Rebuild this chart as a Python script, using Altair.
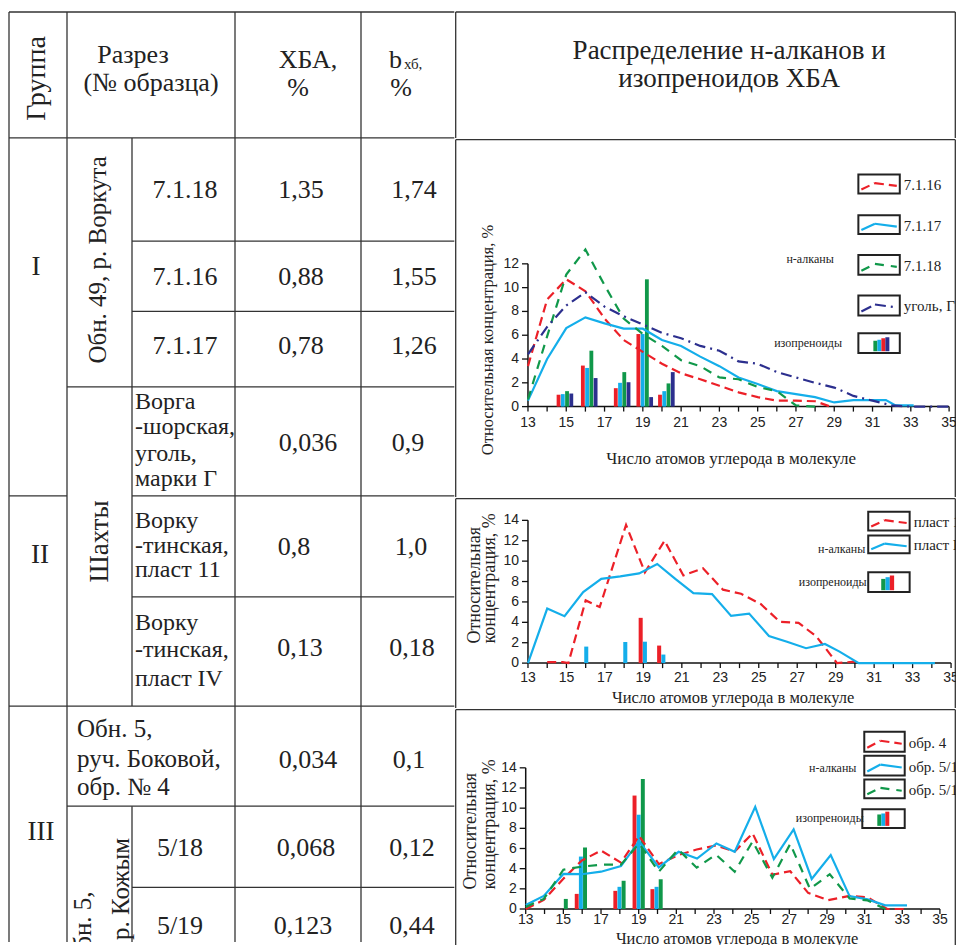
import altair as alt
import pandas as pd

# ------------------------------------------------------------------ data
HEAD_GROUP = "Группа"
HEAD_SECTION = ["Разрез", "(№ образца)"]
HEAD_XBA = ["ХБА,", "%"]
HEAD_B = ["b", "хб,", "%"]
HEAD_DIST = ["Распределение н-алканов и", "изопреноидов ХБА"]
GROUP_LABELS = ["I", "II", "III"]
SECTION_LABELS = ["Обн. 49, р. Воркута", "Шахты"]
SECTION_III_A = ["Обн. 5,", "руч. Боковой,", "обр. № 4"]
SECTION_III_B = ["Обн. 5,", "р. Кожым"]
SAMPLE_SIMPLE = ["7.1.18", "7.1.16", "7.1.17", "5/18", "5/19"]
SAMPLE_BLOCKS = [["Ворга", "-шорская,", "уголь,", "марки  Г"],
                 ["Ворку", "-тинская,", "пласт 11"],
                 ["Ворку", "-тинская,", "пласт IV"]]
XBA = ["1,35", "0,88", "0,78", "0,036", "0,8", "0,13", "0,034", "0,068", "0,123"]
BXB = ["1,74", "1,55", "1,26", "0,9", "1,0", "0,18", "0,1", "0,12", "0,44"]

X_TITLE = "Число атомов углерода в молекуле"
Y_TITLE = ["Относительная", "концентрация, %"]
LEG_ALK = "н-алканы"
LEG_ISO = "изопреноиды"
CARBON_TICKS = list(range(13, 36))

# chart I (Воркута, уголь Г)
I_NAMES = ["7.1.16", "7.1.17", "7.1.18", "уголь, Г"]
I_16_X = list(range(13, 29)) + [28.8]
I_16_Y = [3.4, 9.0, 10.7, 9.7, 7.4, 5.6, 4.6, 3.6, 2.8, 2.3, 1.75, 1.2, 0.8, 0.5, 0.5, 0.45, 0.0]
I_17_X = list(range(13, 32)) + [31.7, 32.2, 33.15]
I_17_Y = [0.5, 4.0, 6.6, 7.5, 7.0, 6.55, 6.55, 5.6, 5.1, 4.2, 3.4, 2.45, 1.9, 1.3, 1.05, 0.8,
          0.35, 0.55, 0.55, 0.55, 0.1, 0.1]
I_18_X = list(range(13, 29))
I_18_Y = [0.6, 5.9, 11.1, 13.2, 10.2, 7.4, 6.1, 5.1, 3.9, 3.4, 2.45, 2.3, 1.65, 1.3, 0.1, 0.0]
I_G_X = list(range(13, 36))
I_G_Y = [4.4, 6.7, 8.5, 9.6, 8.4, 7.6, 6.9, 6.2, 5.75, 5.1, 4.7, 3.8, 3.6, 2.9, 2.45, 2.0,
         1.6, 0.9, 0.5, 0.1, 0.0, 0.0, 0.0]
I_BAR_POS = [14.93, 16.2, 17.92, 19.1, 20.23]
I_BAR_RED = [1.0, 3.45, 1.55, 6.1, 1.0]
I_BAR_CYAN = [1.05, 3.25, 2.0, 6.1, 1.3]
I_BAR_GREEN = [1.3, 4.7, 2.9, 10.7, 1.95]
I_BAR_NAVY = [1.1, 2.4, 2.05, 0.8, 2.9]

# chart II (шахты)
II_NAMES = ["пласт 11", "пласт IV"]
II_11_X = [14, 14.8, 15.1, 16.0, 16.73, 18.1, 19.08, 20.1, 21.08, 22.1, 23.14, 24.08, 25.1,
           26.1, 27.07, 28.0, 29.07, 30.0]
II_11_Y = [0.1, 0.1, 0.0, 6.15, 5.5, 13.55, 8.9, 12.0, 8.6, 9.3, 7.2, 6.8, 5.8, 4.05, 3.95,
           2.6, 0.0, 0.15]
II_IV_X = [13.0, 14.0, 14.9, 15.87, 16.81, 17.8, 18.78, 19.72, 20.66, 21.6, 22.57, 23.56,
           24.5, 25.53, 26.47, 27.46, 28.44, 29.2, 30.2, 34.16]
II_IV_Y = [0.0, 5.35, 4.6, 6.97, 8.26, 8.5, 8.8, 9.72, 8.26, 6.87, 6.77, 4.63, 4.86, 2.66,
           2.1, 1.46, 1.88, 1.13, 0.0, 0.0]
II_BAR_POS = [16.03, 18.06, 19.08, 20.04]
II_BAR_RED = [0.0, 0.0, 4.44, 1.72]
II_BAR_CYAN = [1.62, 2.07, 2.1, 0.84]

# chart III (Боковой, Кожым)
III_NAMES = ["обр. 4", "обр. 5/18", "обр. 5/19"]
III_4_X = [13.0, 13.96, 15.0, 15.97, 17.0, 18.06, 19.02, 20.07, 21.1, 22.08, 23.1, 24.1,
           25.05, 26.1, 27.05, 28.0, 29.06, 30.2, 31.16, 32.2, 33.1]
III_4_Y = [0.0, 0.9, 3.0, 4.8, 5.8, 4.6, 7.25, 4.45, 5.35, 5.9, 6.3, 5.7, 7.5, 3.4, 3.75,
           1.6, 0.87, 1.3, 1.15, 0.0, 0.0]
III_18_X = [13.0, 13.96, 15.0, 15.97, 17.0, 18.06, 19.02, 20.07, 21.12, 22.1, 23.13, 24.1,
            25.19, 26.18, 27.23, 28.19, 29.2, 30.2, 31.16, 32.1, 33.25]
III_18_Y = [0.4, 1.3, 3.48, 3.45, 3.7, 4.25, 6.7, 4.12, 5.67, 5.0, 6.5, 5.67, 10.13, 4.95,
            7.9, 2.98, 5.35, 1.28, 0.95, 0.36, 0.36]
III_19_X = [13.0, 13.96, 15.0, 15.97, 17.0, 18.06, 19.02, 20.07, 21.1, 22.08, 23.1, 24.1,
            25.05, 26.1, 27.05, 28.1, 29.15, 30.2, 31.16, 32.1]
III_19_Y = [0.2, 1.0, 3.9, 4.2, 4.4, 4.4, 6.5, 3.7, 5.9, 4.1, 5.4, 3.7, 6.7, 3.1, 6.45, 2.0,
            3.45, 1.05, 0.85, 0.0]
III_BAR_POS = [14.91, 15.93, 17.98, 19.0, 19.95]
III_BAR_RED = [0.0, 1.5, 1.8, 11.25, 1.97]
III_BAR_CYAN = [0.0, 5.2, 2.2, 9.35, 2.2]
III_BAR_GREEN = [1.0, 6.1, 2.8, 12.9, 2.95]

# ------------------------------------------------------------------ styles / layout
SERIF = "Liberation Serif, Times New Roman, serif"
SANS_N = "Liberation Sans Narrow, Arial Narrow, Liberation Sans, Arial, sans-serif"
COL = {"red": "#ec2028", "cyan": "#14aeea", "green": "#10984a", "navy": "#2c2f8e"}
DASH = {"red": [9, 5], "cyan": None, "green": [9, 7], "navy": [11, 5, 2, 5]}
GRID = "#333333"
TXT = "#222222"
LEFT_W = 447
W = 501
TOTAL_H = 934
K = 930.0 / 938.0
RX = W / 508.0


def PY(ry):          # reference y -> canvas y
    return 4 + (ry - 12) * K


def PXL(rx):         # reference x -> left canvas x
    return rx - 8


def RXc(rx):         # reference x -> right column local x
    return (rx - 455) * RX


TOPS = [0, 130, 488, 698]
HEIGHTS = [130, 358, 210, 236]


def one():
    return pd.DataFrame({"k": [0]})


def vrule(x, y, x2, y2, color=GRID, width=1.3, dash=None):
    kw = dict(color=color, strokeWidth=width)
    if dash:
        kw["strokeDash"] = dash
    return alt.Chart(one()).mark_rule(**kw).encode(
        x=alt.value(x), y=alt.value(y), x2=alt.value(x2), y2=alt.value(y2))


def vrect(x, y, x2, y2, fill=None, stroke=None, sw=1.0):
    if fill:
        m = alt.Chart(one()).mark_rect(color=fill)
    else:
        m = alt.Chart(one()).mark_rect(fill="white", fillOpacity=0, stroke=stroke, strokeWidth=sw)
    return m.encode(x=alt.value(x), y=alt.value(y), x2=alt.value(x2), y2=alt.value(y2))


def vtext(t, x, y, size, align="left", baseline="middle", angle=0, font=SERIF, color=TXT):
    return alt.Chart(one()).mark_text(text=t, align=align, baseline=baseline, angle=angle,
                                      font=font, fontSize=size, color=color, clip=True).encode(
        x=alt.value(x), y=alt.value(y))


# ------------------------------------------------------------------ left table
TABLE_RULES = [  # x1, y1, x2, y2 (reference px)
    (9, 12, 9, 950), (67, 12, 67, 950), (132, 139, 132, 712), (132, 813, 132, 950),
    (235, 12, 235, 950), (361, 12, 361, 950),
    (9, 12, 455, 12), (9, 139, 455, 139), (132, 243, 455, 243), (132, 314, 455, 314),
    (67, 390, 455, 390), (9, 500, 67, 500), (132, 500, 455, 500), (132, 602, 455, 602),
    (9, 712, 455, 712), (67, 813, 455, 813), (132, 895, 455, 895),
]
rules_df = pd.DataFrame([(PXL(a), PY(b), PXL(c), PY(d)) for a, b, c, d in TABLE_RULES],
                        columns=["x1", "y1", "x2", "y2"])
rules_df["x2"] = rules_df["x2"].clip(upper=LEFT_W - 0.7)

texts = []  # (text, x, y, size, kind)
texts.append((HEAD_GROUP, 37, 79, 28, "v"))
texts.append((HEAD_SECTION[0], 133, 63, 26, "c"))
texts.append((HEAD_SECTION[1], 151, 92, 26, "c"))
texts.append((HEAD_XBA[0], 308, 68, 26, "c"))
texts.append((HEAD_XBA[1], 298, 97, 26, "c"))
texts.append((HEAD_B[0], 389, 68, 26, "l"))
texts.append((HEAD_B[1], 404, 69, 15, "l"))
texts.append((HEAD_B[2], 401, 97, 26, "c"))
for g, (x, y) in zip(GROUP_LABELS, [(36, 277), (40, 568), (41, 847)]):
    texts.append((g, x, y, 27, "c"))
texts.append((SECTION_LABELS[0], 98, 262, 25, "v"))
texts.append((SECTION_LABELS[1], 100, 546, 27, "v"))
for t, y in zip(SECTION_III_A, [743, 773, 802]):
    texts.append((t, 77, y, 25, "l"))
for t, x, y in zip(SECTION_III_B, [83, 121], [975, 948]):
    texts.append((t, x, y, 25, "vl"))
for t, x, y in zip(SAMPLE_SIMPLE, [185, 185, 185, 180, 180], [200, 287, 357, 863, 942]):
    texts.append((t, x, y, 26, "c"))
for block, ys in zip(SAMPLE_BLOCKS, [[412, 438, 465, 490], [532, 558, 582], [635, 663, 692]]):
    for t, y in zip(block, ys):
        texts.append((t, 135, y, 24, "l"))
ROW_BASE = [200, 287, 357, 455, 560, 662, 775, 863, 942]
for t, x, y in zip(XBA, [301, 301, 301, 308, 294, 300, 308, 306, 303], ROW_BASE):
    texts.append((t, x, y, 26, "c"))
for t, x, y in zip(BXB, [414, 414, 414, 408, 411, 412, 409, 412, 412], ROW_BASE):
    texts.append((t, x, y, 26, "c"))

tdf = pd.DataFrame(texts, columns=["t", "x", "y", "s", "kind"])
tdf["x"] = tdf["x"].map(PXL)
tdf["y"] = tdf["y"].map(PY)

left_layers = [alt.Chart(rules_df).mark_rule(color=GRID, strokeWidth=1.3).encode(
    x=alt.X("x1:Q", scale=None, axis=None), x2="x2:Q",
    y=alt.Y("y1:Q", scale=None, axis=None), y2="y2:Q")]
KIND = {"c": ("center", "alphabetic", 0), "l": ("left", "alphabetic", 0),
        "v": ("center", "middle", 270), "vl": ("left", "middle", 270)}
for kind, (al, bl, ang) in KIND.items():
    sub = tdf[tdf["kind"] == kind]
    left_layers.append(alt.Chart(sub).mark_text(align=al, baseline=bl, angle=ang, font=SERIF,
                                                color=TXT, clip=True).encode(
        text="t:N", x=alt.X("x:Q", scale=None, axis=None), y=alt.Y("y:Q", scale=None, axis=None),
        size=alt.Size("s:Q", scale=None, legend=None)))
left = alt.layer(*left_layers).properties(width=LEFT_W, height=TOTAL_H)

# ------------------------------------------------------------------ right header
header = alt.layer(
    vrule(0.7, PY(12), W - 0.7, PY(12)), vrule(0.7, PY(12), 0.7, HEIGHTS[0]),
    vrule(W - 0.7, PY(12), W - 0.7, HEIGHTS[0]),
    vtext(HEAD_DIST[0], RXc(733), PY(59), 27, align="center", baseline="alphabetic"),
    vtext(HEAD_DIST[1], RXc(733), PY(88), 27, align="center", baseline="alphabetic"),
).properties(width=W, height=HEIGHTS[0])


# ------------------------------------------------------------------ chart cells
def cell(idx, geom, ymax, series, bar_pos, bar_series, bar_c, bar_step, bar_w, legend,
         ytitles, xtitle, xlab_dy):
    H = HEIGHTS[idx]
    top = TOPS[idx]

    def LY(ry):
        return PY(ry) - top

    rx13, rx35, ry0, ryref, yref_val = geom
    x13, x35 = RXc(rx13), RXc(rx35)
    y0, yref = LY(ry0), LY(ryref)
    pxu = (x35 - x13) / 22.0
    dmin = 13 - x13 / pxu
    dmax = dmin + W / pxu
    pyu = (y0 - yref) / yref_val
    dtop = y0 / pyu
    dbot = dtop - H / pyu
    xs = alt.Scale(domain=[dmin, dmax], nice=False, zero=False)
    ys = alt.Scale(domain=[dbot, dtop], nice=False, zero=False)

    def X(f):
        return alt.X(f, scale=xs, axis=None)

    def Y(f):
        return alt.Y(f, scale=ys, axis=None)

    layers = [vrule(0.7, 0.7, W - 0.7, 0.7), vrule(0.7, 0.7, 0.7, H),
              vrule(W - 0.7, 0.7, W - 0.7, H)]

    # axis lines
    ax_df = pd.DataFrame({"x": [13, 13], "x2": [35, 13], "y": [0, 0], "y2": [0, ymax]})
    layers.append(alt.Chart(ax_df).mark_rule(color="#111", strokeWidth=1.5).encode(
        x=X("x:Q"), x2="x2:Q", y=Y("y:Q"), y2="y2:Q"))
    # x ticks and labels
    xt = pd.DataFrame({"v": CARBON_TICKS})
    layers.append(alt.Chart(xt).transform_calculate(
        z="0", zb=f"{-5.0 / pyu}").mark_rule(color="#111", strokeWidth=1.3).encode(
        x=X("v:Q"), y=Y("z:Q"), y2="zb:Q"))
    xl = pd.DataFrame({"v": [v for v in CARBON_TICKS if v % 2 == 1]})
    xl["t"] = xl["v"].astype(str)
    xl["z"] = 0
    layers.append(alt.Chart(xl).mark_text(font=SANS_N, fontSize=14, color=TXT, dy=xlab_dy,
                                          baseline="middle", align="center", clip=True).encode(
        x=X("v:Q"), y=Y("z:Q"), text="t:N"))
    # y ticks and labels
    yt = pd.DataFrame({"v": list(range(0, ymax + 1, 2))})
    yt["t"] = yt["v"].astype(str)
    yt["x"] = 13
    layers.append(alt.Chart(yt).transform_calculate(
        xb=f"{13 - 6.0 / pxu}").mark_rule(color="#111", strokeWidth=1.3).encode(
        x=X("x:Q"), x2="xb:Q", y=Y("v:Q")))
    layers.append(alt.Chart(yt).mark_text(font=SANS_N, fontSize=14, color=TXT, dx=-9,
                                          baseline="middle", align="right").encode(
        x=X("x:Q"), y=Y("v:Q"), text="t:N"))

    # bars
    rows = []
    for gi, g in enumerate(bar_pos):
        for si, (cname, vals) in enumerate(bar_series):
            if vals[gi] > 0:
                rows.append({"g": g, "i": si, "v": vals[gi], "col": COL[cname]})
    bdf = pd.DataFrame(rows)
    layers.append(alt.Chart(bdf).transform_calculate(
        xl=f"datum.g + (datum.i - {bar_c}) * {bar_step} - {bar_w / 2}",
        xr=f"datum.g + (datum.i - {bar_c}) * {bar_step} + {bar_w / 2}",
        z="0").mark_rect().encode(
        x=X("xl:Q"), x2="xr:Q", y=Y("v:Q"), y2="z:Q",
        color=alt.Color("col:N", scale=None)))

    # lines
    for cname, xv, yv in series:
        kw = dict(color=COL[cname], strokeWidth=2.2)
        if DASH[cname]:
            kw["strokeDash"] = DASH[cname]
        layers.append(alt.Chart(pd.DataFrame({"x": xv, "y": yv})).mark_line(**kw).encode(
            x=X("x:Q"), y=Y("y:Q")))

    # legend (drawn boxes)
    for item in legend:
        if item["type"] in ("line", "iso"):
            bx0, by0, bx1, by1 = item["box"]
            x0, x1, y0b, y1 = RXc(bx0), RXc(bx1), LY(by0), LY(by1)
        if item["type"] == "line":
            w, h = x1 - x0, y1 - y0b
            cname = item["style"]
            p = [(x0 + 3, y1 - 4), (x0 + 0.4 * w, y0b + 0.45 * h), (x1 - 3, y0b + 0.6 * h)]
            layers.append(vrule(p[0][0], p[0][1], p[1][0], p[1][1], COL[cname], 2.2, DASH[cname]))
            layers.append(vrule(p[1][0], p[1][1], p[2][0], p[2][1], COL[cname], 2.2, DASH[cname]))
            layers.append(vrect(x0, y0b, x1, y1, stroke="#222", sw=2))
            layers.append(vtext(item["label"], x1 + 4, (y0b + y1) / 2 + 1, 15))
        elif item["type"] == "iso":
            for cname, rx, rt, rb, bw in item["bars"]:
                layers.append(vrect(x0 + rx, y0b + rt, x0 + rx + bw, y0b + rb, fill=COL[cname]))
            layers.append(vrect(x0, y0b, x1, y1, stroke="#222", sw=2))
        else:
            layers.append(vtext(item["t"], RXc(item["x"]), LY(item["y"]), 12, align="center"))

    for t, x, y, s in ytitles:
        layers.append(vtext(t, RXc(x), LY(y), s, align="left", angle=270))
    t, x, y, s = xtitle
    layers.append(vtext(t, RXc(x), LY(y), s, align="center", baseline="alphabetic"))
    return alt.layer(*layers).properties(width=W, height=H)


ISO_I = [("green", 15, 7.5, 18, 4), ("cyan", 19, 6.5, 18, 4), ("red", 23, 5, 18, 4),
         ("navy", 27, 4, 18, 4)]
ISO_II = [("green", 13, 6.7, 18, 4.3), ("cyan", 17.3, 5, 18, 4.3), ("red", 21.6, 3.3, 18, 4.3)]
ISO_III = [("green", 15, 5.3, 16.7, 4), ("cyan", 19, 4.3, 16.7, 4), ("red", 23, 2.5, 16.7, 4)]

chart1 = cell(
    1, (529, 956, 409, 265, 12), 12,
    [("red", I_16_X, I_16_Y), ("cyan", I_17_X, I_17_Y), ("green", I_18_X, I_18_Y),
     ("navy", I_G_X, I_G_Y)],
    I_BAR_POS, [("red", I_BAR_RED), ("cyan", I_BAR_CYAN), ("green", I_BAR_GREEN),
                ("navy", I_BAR_NAVY)], 1.5, 0.222, 0.2,
    [{"type": "line", "box": (864, 175, 906, 194), "style": "red", "label": I_NAMES[0]},
     {"type": "line", "box": (864, 216, 906, 235), "style": "cyan", "label": I_NAMES[1]},
     {"type": "line", "box": (864, 256, 906, 276), "style": "green", "label": I_NAMES[2]},
     {"type": "line", "box": (864, 297, 906, 317), "style": "navy", "label": I_NAMES[3]},
     {"type": "iso", "box": (864, 335, 906, 355), "bars": ISO_I},
     {"type": "text", "t": LEG_ALK, "x": 815, "y": 260},
     {"type": "text", "t": LEG_ISO, "x": 813, "y": 345}],
    [(" ".join(Y_TITLE), 488, 458, 16.5)],
    (X_TITLE, 735, 467, 17), 16)

chart2 = cell(
    2, (529, 958, 666.7, 522.7, 14), 14,
    [("red", II_11_X, II_11_Y), ("cyan", II_IV_X, II_IV_Y)],
    II_BAR_POS, [("red", II_BAR_RED), ("cyan", II_BAR_CYAN)], 1, 0.22, 0.21,
    [{"type": "line", "box": (874, 514, 916, 533), "style": "red", "label": II_NAMES[0]},
     {"type": "line", "box": (874, 538, 916, 556), "style": "cyan", "label": II_NAMES[1]},
     {"type": "iso", "box": (874, 575, 916, 595), "bars": ISO_II},
     {"type": "text", "t": LEG_ALK, "x": 847, "y": 552},
     {"type": "text", "t": LEG_ISO, "x": 838, "y": 585}],
    [(Y_TITLE[0], 475, 647, 18), (Y_TITLE[1], 490, 647, 18)],
    (X_TITLE, 737, 707, 16.5), 15)

chart3 = cell(
    3, (526.7, 946.7, 913.7, 771.3, 14), 14,
    [("red", III_4_X, III_4_Y), ("cyan", III_18_X, III_18_Y), ("green", III_19_X, III_19_Y)],
    III_BAR_POS, [("red", III_BAR_RED), ("cyan", III_BAR_CYAN), ("green", III_BAR_GREEN)],
    1, 0.22, 0.21,
    [{"type": "line", "box": (870, 735, 911, 755), "style": "red", "label": III_NAMES[0]},
     {"type": "line", "box": (870, 759, 911, 779), "style": "cyan", "label": III_NAMES[1]},
     {"type": "line", "box": (870, 783, 911, 802), "style": "green", "label": III_NAMES[2]},
     {"type": "iso", "box": (868, 813, 911, 832), "bars": ISO_III},
     {"type": "text", "t": LEG_ALK, "x": 838, "y": 771},
     {"type": "text", "t": LEG_ISO, "x": 835, "y": 822}],
    [(Y_TITLE[0], 471, 894, 18), (Y_TITLE[1], 490, 894, 18)],
    (X_TITLE, 741, 949, 16.5), 11)

right = alt.vconcat(header, chart1, chart2, chart3, spacing=0)
chart = alt.hconcat(left, right, spacing=0, padding=0).configure_view(stroke=None)
chart.save("out.html", embed_options={"renderer": "svg", "actions": False})
